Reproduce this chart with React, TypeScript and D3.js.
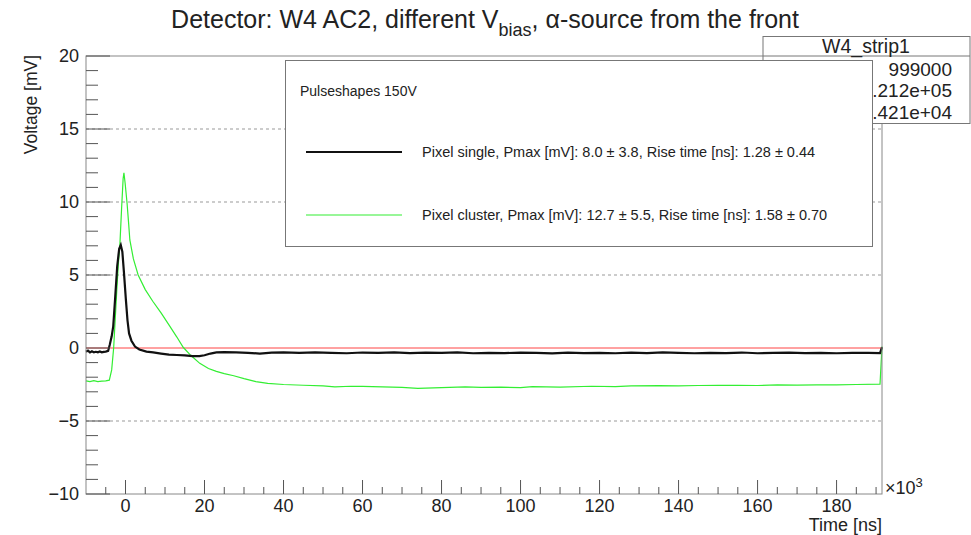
import React, { useRef, useEffect } from "react";
import * as d3 from "d3";

// time axis in units of 10^3 (as printed on the axis)
const singleTime = [
  -10, -9.5, -9, -8.5, -8, -7.5, -7, -6.5, -6, -5.5, -5, -4.4, -4, -3.5, -3.1, -2.6, -2.1, -1.6, -1.2,
  -0.8, -0.4, 0.1, 0.5, 0.9, 1.5, 2.4, 3.5, 5.3, 7, 9, 11, 13, 15, 17, 18.7, 20, 21.5, 23, 25, 28, 31,
  34, 37, 40, 44, 48, 52, 56, 60, 64, 68, 72, 76, 80, 84, 88, 92, 96, 100, 104, 108, 112, 116, 120,
  124, 128, 132, 136, 140, 144, 148, 152, 156, 160, 164, 168, 172, 176, 180, 184, 188, 191, 191.5,
];
const singleVolt = [
  -0.25, -0.18, -0.3, -0.22, -0.3, -0.26, -0.3, -0.24, -0.3, -0.27, -0.25, -0.2, 0.2, 0.8, 1.5, 3.5,
  5.6, 6.8, 7.05, 6.6, 5.2, 3.3, 1.9, 1.0, 0.5, 0.1, -0.1, -0.25, -0.3, -0.38, -0.45, -0.48, -0.5,
  -0.55, -0.56, -0.5, -0.38, -0.3, -0.28, -0.3, -0.33, -0.38, -0.32, -0.3, -0.34, -0.3, -0.33, -0.36,
  -0.31, -0.34, -0.3, -0.35, -0.32, -0.34, -0.3, -0.36, -0.33, -0.35, -0.31, -0.34, -0.37, -0.32,
  -0.35, -0.33, -0.36, -0.32, -0.35, -0.3, -0.34, -0.36, -0.33, -0.35, -0.31, -0.36, -0.34, -0.32,
  -0.35, -0.33, -0.36, -0.34, -0.33, -0.35, 0.05,
];

const clusterTime = [
  -10, -9, -8, -7, -6, -5, -4.1, -3.5, -3, -2.7, -2.2, -1.8, -1.4, -1, -0.6, -0.4, -0.1, 0.4, 0.8, 1.1,
  2, 3.2, 5, 6.9, 9, 11.2, 13, 14.6, 16.5, 18.8, 21, 23, 25, 27.4, 30, 33, 36, 40, 45, 50, 53, 57, 60,
  65, 70, 74, 80, 86, 90, 95, 100, 103, 110, 118, 124, 128, 135, 140, 145, 150, 155, 160, 165, 170,
  175, 180, 185, 191, 191.5,
];
const clusterVolt = [
  -2.25, -2.3, -2.24, -2.3, -2.27, -2.25, -2.2, -1.5, 0, 1.5, 4, 5.8, 7.2, 9.5, 11.6, 12.0, 11.3, 9.9,
  8.5, 7.4, 6.1, 5.0, 4.0, 3.2, 2.4, 1.5, 0.75, 0.05, -0.5, -1.05, -1.4, -1.6, -1.75, -1.9, -2.1, -2.3,
  -2.42, -2.5, -2.55, -2.6, -2.66, -2.62, -2.63, -2.66, -2.7, -2.76, -2.72, -2.66, -2.7, -2.68, -2.72,
  -2.65, -2.68, -2.62, -2.64, -2.6, -2.58, -2.6, -2.57, -2.56, -2.55, -2.57, -2.53, -2.54, -2.52,
  -2.53, -2.5, -2.47, 0.1,
];

const yMajor = [-10, -5, 0, 5, 10, 15, 20];
const xMajor = [0, 20, 40, 60, 80, 100, 120, 140, 160, 180];

const statNames = ["Entries", "Mean", "Std Dev"];
const statValues = ["999000", "1.212e+05", "5.421e+04"];

const legendTitle = "Pulseshapes 150V";
const legendLabels = [
  "Pixel single, Pmax [mV]: 8.0 \u00b1 3.8, Rise time [ns]: 1.28 \u00b1 0.44",
  "Pixel cluster, Pmax [mV]: 12.7 \u00b1 5.5, Rise time [ns]: 1.58 \u00b1 0.70",
];

export default function App() {
  const chartRef = useRef(null);

  useEffect(() => {
    drawChart();
  }, []);

  const drawChart = () => {
    const width = 971;
    const height = 535;
    const plot = { left: 86, right: 882, top: 56, bottom: 494 };
    const font = "Liberation Sans, Arial, sans-serif";
    const axisColor = "#555";

    const x = d3.scaleLinear().domain([-10, 191.5]).range([plot.left, plot.right]);
    const y = d3.scaleLinear().domain([-10, 20]).range([plot.bottom, plot.top]);

    const svg = d3
      .select(chartRef.current)
      .html("")
      .append("svg")
      .attr("width", width)
      .attr("height", height)
      .style("display", "block")
      .style("background", "#fff");

    // grid lines
    svg
      .append("g")
      .selectAll("line")
      .data(yMajor.filter((v) => v > -10 && v < 20 && v !== 0))
      .enter()
      .append("line")
      .attr("x1", plot.left)
      .attr("x2", plot.right)
      .attr("y1", (d) => y(d))
      .attr("y2", (d) => y(d))
      .attr("stroke", "#999")
      .attr("stroke-width", 1)
      .attr("stroke-dasharray", "3,3");

    // zero line
    svg
      .append("line")
      .attr("x1", plot.left)
      .attr("x2", plot.right)
      .attr("y1", y(0))
      .attr("y2", y(0))
      .attr("stroke", "#f44")
      .attr("stroke-width", 1);

    // curves
    const line = d3
      .line()
      .x((d) => x(d[0]))
      .y((d) => y(d[1]))
      .curve(d3.curveLinear);

    svg
      .append("path")
      .datum(clusterTime.map((t, i) => [t, clusterVolt[i]]))
      .attr("fill", "none")
      .attr("stroke", "#3e3")
      .attr("stroke-width", 1.2)
      .attr("d", line);

    svg
      .append("path")
      .datum(singleTime.map((t, i) => [t, singleVolt[i]]))
      .attr("fill", "none")
      .attr("stroke", "#111")
      .attr("stroke-width", 2.2)
      .attr("d", line);

    // frame
    svg
      .append("rect")
      .attr("x", plot.left)
      .attr("y", plot.top)
      .attr("width", plot.right - plot.left)
      .attr("height", plot.bottom - plot.top)
      .attr("fill", "none")
      .attr("stroke", "#888")
      .attr("stroke-width", 1);

    // y ticks (inward)
    const yMinor = d3.range(-10, 21, 1);
    svg
      .append("g")
      .selectAll("line")
      .data(yMinor)
      .enter()
      .append("line")
      .attr("x1", plot.left)
      .attr("x2", (d) => plot.left + (d % 5 === 0 ? 24 : 12))
      .attr("y1", (d) => y(d))
      .attr("y2", (d) => y(d))
      .attr("stroke", axisColor)
      .attr("stroke-width", 1);

    svg
      .append("g")
      .selectAll("text")
      .data(yMajor)
      .enter()
      .append("text")
      .attr("x", 79)
      .attr("y", (d) => y(d) + 6)
      .attr("text-anchor", "end")
      .attr("font-family", font)
      .attr("font-size", 18)
      .attr("fill", "#222")
      .text((d) => (d < 0 ? "\u2212" + Math.abs(d) : d));

    // x ticks (inward)
    const xMinor = d3.range(-5, 191, 5);
    svg
      .append("g")
      .selectAll("line")
      .data(xMinor)
      .enter()
      .append("line")
      .attr("x1", (d) => x(d))
      .attr("x2", (d) => x(d))
      .attr("y1", plot.bottom)
      .attr("y2", (d) => plot.bottom - (d % 20 === 0 ? 14 : 7))
      .attr("stroke", axisColor)
      .attr("stroke-width", 1);

    svg
      .append("g")
      .selectAll("text")
      .data(xMajor)
      .enter()
      .append("text")
      .attr("x", (d) => x(d))
      .attr("y", 512)
      .attr("text-anchor", "middle")
      .attr("font-family", font)
      .attr("font-size", 18)
      .attr("fill", "#222")
      .text((d) => d);

    // axis titles
    svg
      .append("text")
      .attr("x", plot.right)
      .attr("y", 531)
      .attr("text-anchor", "end")
      .attr("font-family", font)
      .attr("font-size", 18)
      .attr("fill", "#222")
      .text("Time [ns]");

    const exp = svg
      .append("text")
      .attr("x", 885)
      .attr("y", 494)
      .attr("font-family", font)
      .attr("font-size", 18)
      .attr("fill", "#222");
    exp.append("tspan").text("\u00d710");
    exp.append("tspan").attr("dy", -7).attr("font-size", 13).text("3");

    svg
      .append("text")
      .attr("transform", `translate(37, ${plot.top - 1}) rotate(-90)`)
      .attr("text-anchor", "end")
      .attr("font-family", font)
      .attr("font-size", 17.5)
      .attr("fill", "#222")
      .text("Voltage [mV]");

    // title
    const title = svg
      .append("text")
      .attr("x", 485)
      .attr("y", 28)
      .attr("text-anchor", "middle")
      .attr("font-family", font)
      .attr("font-size", 25)
      .attr("fill", "#222");
    title.append("tspan").text("Detector: W4 AC2, different V");
    title.append("tspan").attr("dy", 8).attr("font-size", 18).text("bias");
    title.append("tspan").attr("dy", -8).text(", \u03b1-source from the front");

    // stats box
    const stats = svg.append("g");
    stats
      .append("rect")
      .attr("x", 763)
      .attr("y", 36.5)
      .attr("width", 207)
      .attr("height", 87)
      .attr("fill", "#fff")
      .attr("stroke", "#777");
    stats
      .append("line")
      .attr("x1", 763)
      .attr("x2", 970)
      .attr("y1", 56)
      .attr("y2", 56)
      .attr("stroke", "#777");
    stats
      .append("text")
      .attr("x", 866)
      .attr("y", 53)
      .attr("text-anchor", "middle")
      .attr("font-family", font)
      .attr("font-size", 19.5)
      .attr("fill", "#222")
      .text("W4_strip1");
    statNames.forEach((name, i) => {
      stats
        .append("text")
        .attr("x", 770)
        .attr("y", 75.5 + i * 21.5)
        .attr("font-family", font)
        .attr("font-size", 19)
        .attr("fill", "#222")
        .text(name);
      stats
        .append("text")
        .attr("x", 952)
        .attr("y", 75.5 + i * 21.5)
        .attr("text-anchor", "end")
        .attr("font-family", font)
        .attr("font-size", 19)
        .attr("fill", "#222")
        .text(statValues[i]);
    });

    // legend (drawn over the stats box)
    const legend = svg.append("g");
    legend
      .append("rect")
      .attr("x", 285.5)
      .attr("y", 60.5)
      .attr("width", 587)
      .attr("height", 186)
      .attr("fill", "#fff")
      .attr("stroke", "#777");
    legend
      .append("text")
      .attr("x", 300)
      .attr("y", 96)
      .attr("font-family", font)
      .attr("font-size", 14)
      .attr("fill", "#222")
      .text(legendTitle);

    const legendColors = ["#111", "#3e3"];
    const legendWidths = [2.2, 1.2];
    legendLabels.forEach((label, i) => {
      const ly = 152 + i * 63;
      legend
        .append("line")
        .attr("x1", 306)
        .attr("x2", 402)
        .attr("y1", ly)
        .attr("y2", ly)
        .attr("stroke", legendColors[i])
        .attr("stroke-width", legendWidths[i]);
      legend
        .append("text")
        .attr("x", 422)
        .attr("y", ly + 5)
        .attr("font-family", font)
        .attr("font-size", 14.5)
        .attr("fill", "#222")
        .text(label);
    });
  };

  return (
    <div style={{ position: "absolute", left: 0, top: 0 }}>
      <div ref={chartRef}></div>
    </div>
  );
}
